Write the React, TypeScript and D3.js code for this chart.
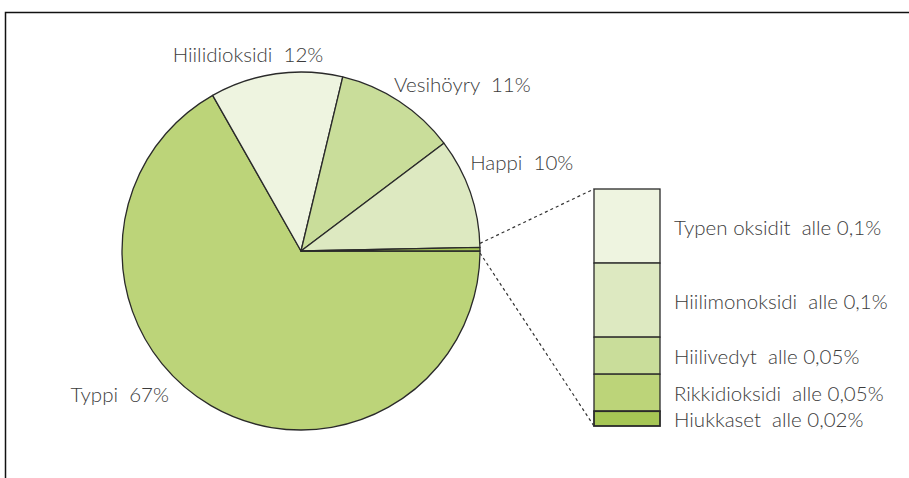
import React, { useRef, useEffect } from 'react';
import * as d3 from 'd3';

// Pääkaavio: ilman koostumus (%)
const gasNames = ['Typpi', 'Hiilidioksidi', 'Vesihöyry', 'Happi', 'Muut'];
const gasValues = [67, 12, 11, 10, 0.32];
const gasLabels = ['Typpi  67%', 'Hiilidioksidi  12%', 'Vesihöyry  11%', 'Happi  10%', ''];

// Muut-osuuden erittely (%)
const otherNames = ['Typen oksidit', 'Hiilimonoksidi', 'Hiilivedyt', 'Rikkidioksidi', 'Hiukkaset'];
const otherValues = [0.1, 0.1, 0.05, 0.05, 0.02];
const otherLabels = [
  'Typen oksidit  alle 0,1%',
  'Hiilimonoksidi  alle 0,1%',
  'Hiilivedyt  alle 0,05%',
  'Rikkidioksidi  alle 0,05%',
  'Hiukkaset  alle 0,02%',
];

const W = 909;
const H = 478;

const App = () => {
  const svgRef = useRef<SVGSVGElement>(null);

  const pieColors: Record<string, string> = {
    Typpi: '#bcd479',
    Hiilidioksidi: '#eef4e0',
    Vesihöyry: '#c9dd9a',
    Happi: '#dde9c1',
    Muut: '#a6c655',
  };
  const barColors = ['#eef4e0', '#dde9c1', '#c9dd9a', '#bcd479', '#a6c655'];

  // Tekstien sijainnin hienosäätö (kaaren keskikohdasta)
  const labelNudge: Record<string, [number, number, string]> = {
    Typpi: [-42, -4, 'end'],
    Hiilidioksidi: [-28, -12, 'middle'],
    Vesihöyry: [-5, -9, 'start'],
    Happi: [0, -22, 'start'],
  };

  useEffect(() => {
    const svg = d3.select(svgRef.current);
    svg.selectAll('*').remove();

    const font = 'Lato, "Open Sans", sans-serif';
    const fontSize = 20.5;
    const textColor = '#3c3c3c';

    // Kehys (vasen ja ylä)
    svg.append('path')
      .attr('d', `M5.5,${H} L5.5,12.5 L${W},12.5`)
      .attr('fill', 'none')
      .attr('stroke', '#111')
      .attr('stroke-width', 1.5);

    // Piirakka
    const cx = 301;
    const cy = 251;
    const r = 179;
    const data = gasNames.map((name, i) => ({ name, value: gasValues[i], label: gasLabels[i] }));

    const pie = d3.pie<any>()
      .value(d => d.value)
      .sort(null)
      .startAngle(Math.PI / 2)
      .endAngle(Math.PI / 2 + 2 * Math.PI);
    const arcs = pie(data);

    const arc = d3.arc<any>().innerRadius(0).outerRadius(r);
    const edgeArc = d3.arc<any>().innerRadius(r).outerRadius(r);

    const g = svg.append('g').attr('transform', `translate(${cx},${cy})`);

    g.selectAll('path.slice')
      .data(arcs)
      .join('path')
      .attr('class', 'slice')
      .attr('d', arc)
      .attr('fill', d => pieColors[d.data.name])
      .attr('stroke', '#2a2a2a')
      .attr('stroke-width', 1.3)
      .attr('stroke-linejoin', 'round');

    g.selectAll('text.label')
      .data(arcs.filter(d => d.data.label))
      .join('text')
      .attr('class', 'label')
      .attr('x', d => edgeArc.centroid(d)[0] + labelNudge[d.data.name][0])
      .attr('y', d => edgeArc.centroid(d)[1] + labelNudge[d.data.name][1])
      .attr('text-anchor', d => labelNudge[d.data.name][2])
      .style('white-space', 'pre')
      .attr('font-family', font)
      .attr('font-weight', 300)
      .attr('font-size', fontSize)
      .attr('fill', textColor)
      .text(d => d.data.label);

    // Erittelypylväs
    const barX = 594;
    const barW = 66;
    const barTop = 189;
    const total = d3.sum(otherValues);
    const yScale = d3.scaleLinear().domain([0, total]).range([barTop, 426]);
    const cum = d3.cumsum(otherValues);
    const segs = otherNames.map((name, i) => ({
      name,
      label: otherLabels[i],
      y0: yScale(cum[i] - otherValues[i]),
      y1: yScale(cum[i]),
      color: barColors[i],
    }));

    const bar = svg.append('g');
    bar.selectAll('rect')
      .data(segs)
      .join('rect')
      .attr('x', barX)
      .attr('y', d => d.y0)
      .attr('width', barW)
      .attr('height', d => d.y1 - d.y0)
      .attr('fill', d => d.color)
      .attr('stroke', '#2a2a2a')
      .attr('stroke-width', (d, i) => (i === segs.length - 1 ? 1.8 : 1.3));

    bar.selectAll('text')
      .data(segs)
      .join('text')
      .attr('x', barX + barW + 14)
      .attr('y', d => (d.y0 + d.y1) / 2)
      .attr('dy', '0.42em')
      .style('white-space', 'pre')
      .attr('font-family', font)
      .attr('font-weight', 300)
      .attr('font-size', fontSize)
      .attr('fill', textColor)
      .text(d => d.label);

    // Katkoviivat pienestä sektorista pylvääseen
    const small = arcs[arcs.length - 1];
    const pStart = [cx + r * Math.sin(small.startAngle), cy - r * Math.cos(small.startAngle)];
    const pEnd = [cx + r * Math.sin(small.endAngle), cy - r * Math.cos(small.endAngle)];
    const lines = [
      { from: [pStart[0], pStart[1] - 4], to: [barX, barTop] },
      { from: [pEnd[0], pEnd[1] + 2], to: [barX, yScale(total)] },
    ];
    svg.selectAll('line.dash')
      .data(lines)
      .join('line')
      .attr('class', 'dash')
      .attr('x1', d => d.from[0])
      .attr('y1', d => d.from[1])
      .attr('x2', d => d.to[0])
      .attr('y2', d => d.to[1])
      .attr('stroke', '#333')
      .attr('stroke-width', 1.2)
      .attr('stroke-dasharray', '3,3');
  }, []);

  return (
    <svg
      ref={svgRef}
      width={W}
      height={H}
      style={{ position: 'absolute', left: 0, top: 0, background: '#fff' }}
    ></svg>
  );
};

export default App;
